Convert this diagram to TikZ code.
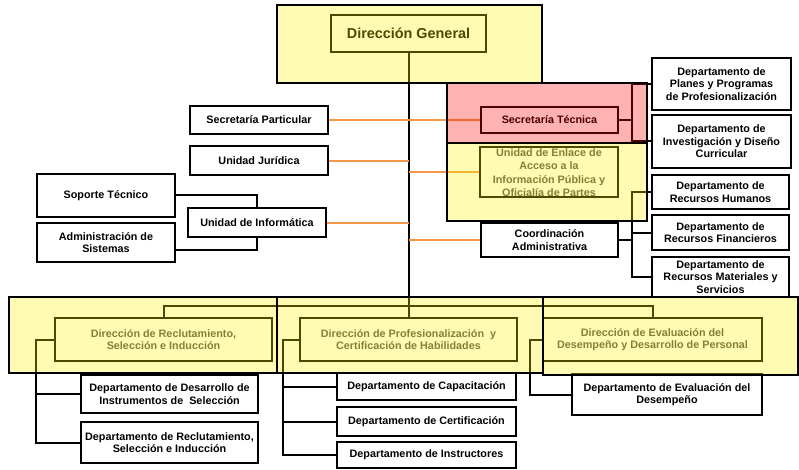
\documentclass[tikz,border=0pt]{standalone}
\usepackage{fontspec}
\setmainfont{Liberation Sans}
\usetikzlibrary{shadows,calc}

\definecolor{tangerine}{HTML}{F79646}
\definecolor{dirgray}{HTML}{505050}

\tikzset{
  unitbox/.style={draw=black, line width=2pt, fill=white, align=center,
    font=\fontsize{10.8}{12.6}\selectfont\bfseries, inner sep=1pt,
    drop shadow={shadow xshift=1pt, shadow yshift=-1pt, opacity=0.25}},
  dirbox/.style={unitbox, text=dirgray, line width=2.2pt},
  link/.style={draw=black, line width=2pt},
  feed/.style={draw=tangerine, line width=2pt},
  hiyellow/.style={fill=yellow, fill opacity=0.3, draw=black, line width=1.5pt},
  hired/.style={fill=red, fill opacity=0.3, draw=black, line width=1.5pt},
}

\begin{document}
\begin{tikzpicture}[x=1pt, y=-1pt]
\useasboundingbox (0,0) rectangle (799,470);

% ---- head and staff units
\node[unitbox, line width=2.4pt, minimum width=155, minimum height=37,
      font=\fontsize{14.4}{16}\selectfont\bfseries] (DG) at (408.5,33.5) {Dirección General};

\node[unitbox, minimum width=138, minimum height=28] (SP) at (259,120) {Secretaría Particular};
\node[unitbox, minimum width=138, minimum height=29] (UJ) at (259,161) {Unidad Jurídica};
\node[unitbox, minimum width=138, minimum height=43] (ST2) at (106,195.5) {Soporte Técnico};
\node[unitbox, minimum width=138, minimum height=39] (AS) at (106,242.5) {Administración de\\Sistemas};
\node[unitbox, minimum width=138, minimum height=29] (UI) at (257,222.5) {Unidad de Informática};

\node[unitbox, minimum width=137, minimum height=26] (ST) at (549.5,120) {Secretaría Técnica};
\node[unitbox, minimum width=139, minimum height=52] (PP) at (721.5,84) {Departamento de\\Planes y Programas\\de Profesionalización};
\node[unitbox, minimum width=139, minimum height=53] (ID) at (721.5,141.5) {Departamento de\\Investigación y Diseño\\Curricular};

\node[dirbox, minimum width=138, minimum height=50] (UE) at (549,172) {};
\node[align=center, text=dirgray, font=\fontsize{10.8}{13.3}\selectfont\bfseries, inner sep=0pt]
     (UEtext) at (549,172.5) {Unidad de Enlace de\\Acceso a la\\Información Pública y\\Oficialía de Partes};

\node[unitbox, minimum width=137, minimum height=34] (CA) at (549.5,240) {Coordinación\\Administrativa};
\node[unitbox, minimum width=137, minimum height=34] (RH) at (720.5,192) {Departamento de\\Recursos Humanos};
\node[unitbox, minimum width=137, minimum height=35] (RF) at (720.5,232.5) {Departamento de\\Recursos Financieros};
\node[unitbox, minimum width=137, minimum height=40] (RM) at (720.5,277) {Departamento de\\Recursos Materiales y\\Servicios};

% ---- directions
\node[dirbox, minimum width=217, minimum height=43] (DR) at (163.5,339.5) {Dirección de Reclutamiento,\\Selección e Inducción};
\node[dirbox, minimum width=217, minimum height=43] (DP) at (408.5,339.5) {Dirección de Profesionalización\ \ y\\Certificación de Habilidades};
\node[dirbox, minimum width=219, minimum height=43] (DE) at (652.5,339.5) {Dirección de Evaluación del\\Desempeño y Desarrollo de Personal};

\node[unitbox, minimum width=177, minimum height=38] (DD) at (169.5,394) {Departamento de Desarrollo de\\Instrumentos de\ \ Selección};
\node[unitbox, minimum width=177, minimum height=41] (DRS) at (169.5,442.5) {Departamento de Reclutamiento,\\Selección e Inducción};
\node[unitbox, minimum width=179, minimum height=27] (CAP) at (426.5,386.5) {Departamento de Capacitación};
\node[unitbox, minimum width=179, minimum height=29] (CER) at (426.5,421.5) {Departamento de Certificación};
\node[unitbox, minimum width=179, minimum height=26] (INS) at (426.5,455) {Departamento de Instructores};
\node[unitbox, minimum width=190, minimum height=41] (EVD) at (667,394.5) {Departamento de Evaluación del\\Desempeño};

% ---- junction points
\coordinate (stj) at (632,120);
\coordinate (caj) at (632,240);
\coordinate (bus) at (408.5,306);
\coordinate (drj) at (36,339.5);
\coordinate (dpj) at (283,339.5);
\coordinate (dej) at (530,339.5);

% ---- connectors
\draw[link] (DG.south) -- (DP.north);
\draw[link] (DR.north) |- (bus) -| (DE.north);

\draw[feed] (SP.east) -- (ST.west);
\draw[feed] (UJ.east) -- (UJ.east -| DG.south);
\draw[feed] (UE.west -| DG.south) -- (UE.west);
\draw[feed] (UI.east) -- (UI.east -| DG.south);
\draw[feed] (CA.west -| DG.south) -- (CA.west);

\draw[link] (ST2.east) -| (UI.north);
\draw[link] ($(AS.east)+(0,7)$) -| (UI.south);

\draw[link] (ST.east) -- (stj);
\draw[link] (PP.west) -| (stj) |- (ID.west);

\draw[link] (CA.east) -- (caj);
\draw[link] (RH.west) -| (caj) |- (RM.west);
\draw[link] (RF.west) -| (caj);

\draw[link] (DR.west) -- (drj) |- (DRS.west);
\draw[link] (drj) |- (DD.west);

\draw[link] (DP.west) -- (dpj) |- (INS.west);
\draw[link] (dpj) |- (CAP.west);
\draw[link] (dpj) |- (CER.west);

\draw[link] (DE.west) -- (dej) |- (EVD.west);

% ---- highlight overlays
\draw[hiyellow] (277,5) rectangle (542,83);
\draw[hired] (447,83) rectangle (647,143);
\draw[hiyellow] (447,143) rectangle (647,221);
\draw[hiyellow] (9,297) rectangle (277,373);
\draw[hiyellow] (277,297) rectangle (543,373);
\draw[hiyellow] (543,297) rectangle (798,375);

\end{tikzpicture}
\end{document}
